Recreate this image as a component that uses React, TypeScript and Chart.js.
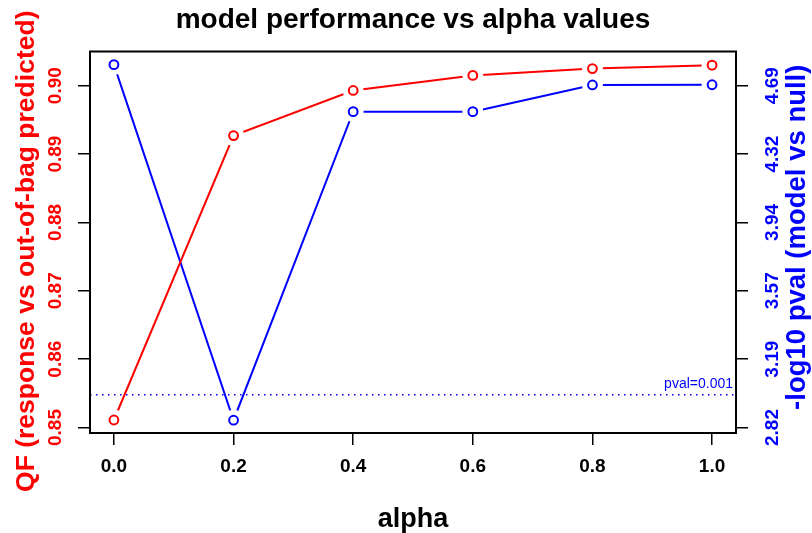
import React, { useEffect, useRef } from "react";
import { Chart, registerables } from "chart.js";

Chart.register(...registerables);

// ---- data ----
const alpha = [0, 0.2, 0.4, 0.6, 0.8, 1.0];
const qfValues = [0.8511, 0.8927, 0.8993, 0.9015, 0.9025, 0.903];
const negLog10P = [4.805, 2.86, 4.548, 4.548, 4.694, 4.695];
const xTicks = [0, 0.2, 0.4, 0.6, 0.8, 1.0];
const qfTicks = [0.85, 0.86, 0.87, 0.88, 0.89, 0.9];
const pvalTicks = [2.82, 3.194, 3.568, 3.942, 4.316, 4.69];
const pvalThreshold = 3; // -log10(0.001)
const pvalThresholdLabel = "pval=0.001";

const TITLE = "model performance vs alpha values";
const X_TITLE = "alpha";
const LEFT_TITLE = "QF (response vs out-of-bag predicted)";
const RIGHT_TITLE = "-log10 pval (model vs null)";

const FONT = "'Liberation Sans', Arial, Helvetica, sans-serif";
const RED = "#ff0000";
const BLUE = "#0000ff";

const X_MIN = -0.04;
const X_MAX = 1.04;
const QF_MIN = 0.8492;
const QF_MAX = 0.905;
const qfToP = (v: number) =>
  pvalTicks[0] +
  ((v - qfTicks[0]) * (pvalTicks[pvalTicks.length - 1] - pvalTicks[0])) /
    (qfTicks[qfTicks.length - 1] - qfTicks[0]);

const framePlugin = {
  id: "frame",
  afterDraw(chart: any) {
    const { ctx, chartArea: a, scales } = chart;
    ctx.save();
    ctx.strokeStyle = "#000";
    ctx.lineWidth = 2;
    ctx.strokeRect(a.left, a.top, a.right - a.left, a.bottom - a.top);
    // threshold label
    ctx.fillStyle = BLUE;
    ctx.font = `14px ${FONT}`;
    ctx.textAlign = "right";
    ctx.textBaseline = "bottom";
    ctx.fillText(pvalThresholdLabel, a.right - 3, scales.y1.getPixelForValue(pvalThreshold) - 3);
    ctx.restore();

    // left axis title (reads bottom to top)
    ctx.save();
    ctx.translate(27, (a.top + a.bottom) / 2 + 9);
    ctx.rotate(-Math.PI / 2);
    ctx.fillStyle = RED;
    ctx.font = `bold 26.5px ${FONT}`;
    ctx.textAlign = "center";
    ctx.textBaseline = "middle";
    ctx.fillText(LEFT_TITLE, 0, 0);
    ctx.restore();

    // right axis title (reads bottom to top)
    ctx.save();
    ctx.translate(scales.y1.left + 61, (a.top + a.bottom) / 2 - 5);
    ctx.rotate(-Math.PI / 2);
    ctx.fillStyle = BLUE;
    ctx.font = `bold 27.5px ${FONT}`;
    ctx.textAlign = "center";
    ctx.textBaseline = "middle";
    ctx.fillText(RIGHT_TITLE, 0, 0);
    ctx.restore();
  },
};

const tickGrid = {
  drawOnChartArea: false,
  drawTicks: true,
  tickLength: 12,
  color: "#000",
  lineWidth: 1.5,
};

function seriesSets(label: string, values: number[], axis: string, color: string) {
  const pts = alpha.map((x, i) => ({ x, y: values[i] }));
  return [
    {
      label,
      data: pts,
      yAxisID: axis,
      borderColor: color,
      borderWidth: 2,
      pointRadius: 0,
      tension: 0,
      order: 3,
    },
    {
      label: label + " gap",
      data: pts,
      yAxisID: axis,
      showLine: false,
      pointStyle: "circle",
      pointRadius: 10.5,
      pointBorderWidth: 0,
      pointBackgroundColor: "#ffffff",
      pointBorderColor: "#ffffff",
      order: 2,
    },
    {
      label: label + " points",
      data: pts,
      yAxisID: axis,
      showLine: false,
      pointStyle: "circle",
      pointRadius: 4.4,
      pointBorderWidth: 2,
      pointBackgroundColor: "rgba(0,0,0,0)",
      pointBorderColor: color,
      order: 1,
    },
  ];
}

export default function App() {
  const ref = useRef<HTMLCanvasElement>(null);

  useEffect(() => {
    if (!ref.current) return;
    const chart = new Chart(ref.current, {
      type: "line",
      data: {
        datasets: [
          ...seriesSets("QF", qfValues, "y", RED),
          ...seriesSets("-log10 pval", negLog10P, "y1", BLUE),
          {
            label: pvalThresholdLabel,
            data: [
              { x: X_MIN, y: pvalThreshold },
              { x: X_MAX, y: pvalThreshold },
            ],
            yAxisID: "y1",
            borderColor: BLUE,
            borderWidth: 1.5,
            borderDash: [1.5, 4.5],
            pointRadius: 0,
            order: 4,
          },
        ] as any,
      },
      options: {
        responsive: false,
        animation: false,
        layout: { padding: 0 },
        plugins: {
          legend: { display: false },
          tooltip: { enabled: false },
          title: {
            display: true,
            fullSize: false,
            text: TITLE,
            color: "#000",
            font: { family: FONT, size: 28, weight: "bold", lineHeight: 1 },
            padding: { top: 6, bottom: 17.5 },
          },
        },
        scales: {
          x: {
            type: "linear",
            min: X_MIN,
            max: X_MAX,
            afterBuildTicks: (s: any) => {
              s.ticks = xTicks.map((v) => ({ value: v }));
            },
            afterFit: (s: any) => {
              s.height = 100;
            },
            ticks: {
              callback: (v: any) => Number(v).toFixed(1),
              color: "#000",
              font: { family: FONT, size: 19, weight: "bold" },
              padding: 10,
              maxRotation: 0,
              autoSkip: false,
            },
            grid: tickGrid,
            border: { display: false },
            title: {
              display: true,
              text: X_TITLE,
              color: "#000",
              font: { family: FONT, size: 27, weight: "bold", lineHeight: 1 },
              padding: { top: 0, bottom: 0 },
            },
          },
          y: {
            type: "linear",
            position: "left",
            min: QF_MIN,
            max: QF_MAX,
            afterBuildTicks: (s: any) => {
              s.ticks = qfTicks.map((v) => ({ value: v }));
            },
            afterFit: (s: any) => {
              s.width = 90;
            },
            ticks: {
              callback: (v: any) => Number(v).toFixed(2),
              color: RED,
              font: { family: FONT, size: 19, weight: "bold" },
              minRotation: 90,
              maxRotation: 90,
              crossAlign: "center",
              padding: 3.5,
              autoSkip: false,
            },
            grid: tickGrid,
            border: { display: false },
          },
          y1: {
            type: "linear",
            position: "right",
            min: qfToP(QF_MIN),
            max: qfToP(QF_MAX),
            afterBuildTicks: (s: any) => {
              s.ticks = pvalTicks.map((v) => ({ value: v }));
            },
            afterFit: (s: any) => {
              s.width = 76;
            },
            ticks: {
              callback: (v: any) => Number(v).toFixed(2),
              color: BLUE,
              font: { family: FONT, size: 19, weight: "bold" },
              minRotation: 90,
              maxRotation: 90,
              crossAlign: "center",
              padding: 6.5,
              autoSkip: false,
            },
            grid: tickGrid,
            border: { display: false },
          },
        },
      } as any,
      plugins: [framePlugin],
    });
    return () => chart.destroy();
  }, []);

  return (
    <div style={{ position: "absolute", left: 0, top: 0, width: 812, height: 533, background: "#fff" }}>
      <canvas ref={ref} width={812} height={533} style={{ display: "block" }} />
    </div>
  );
}
